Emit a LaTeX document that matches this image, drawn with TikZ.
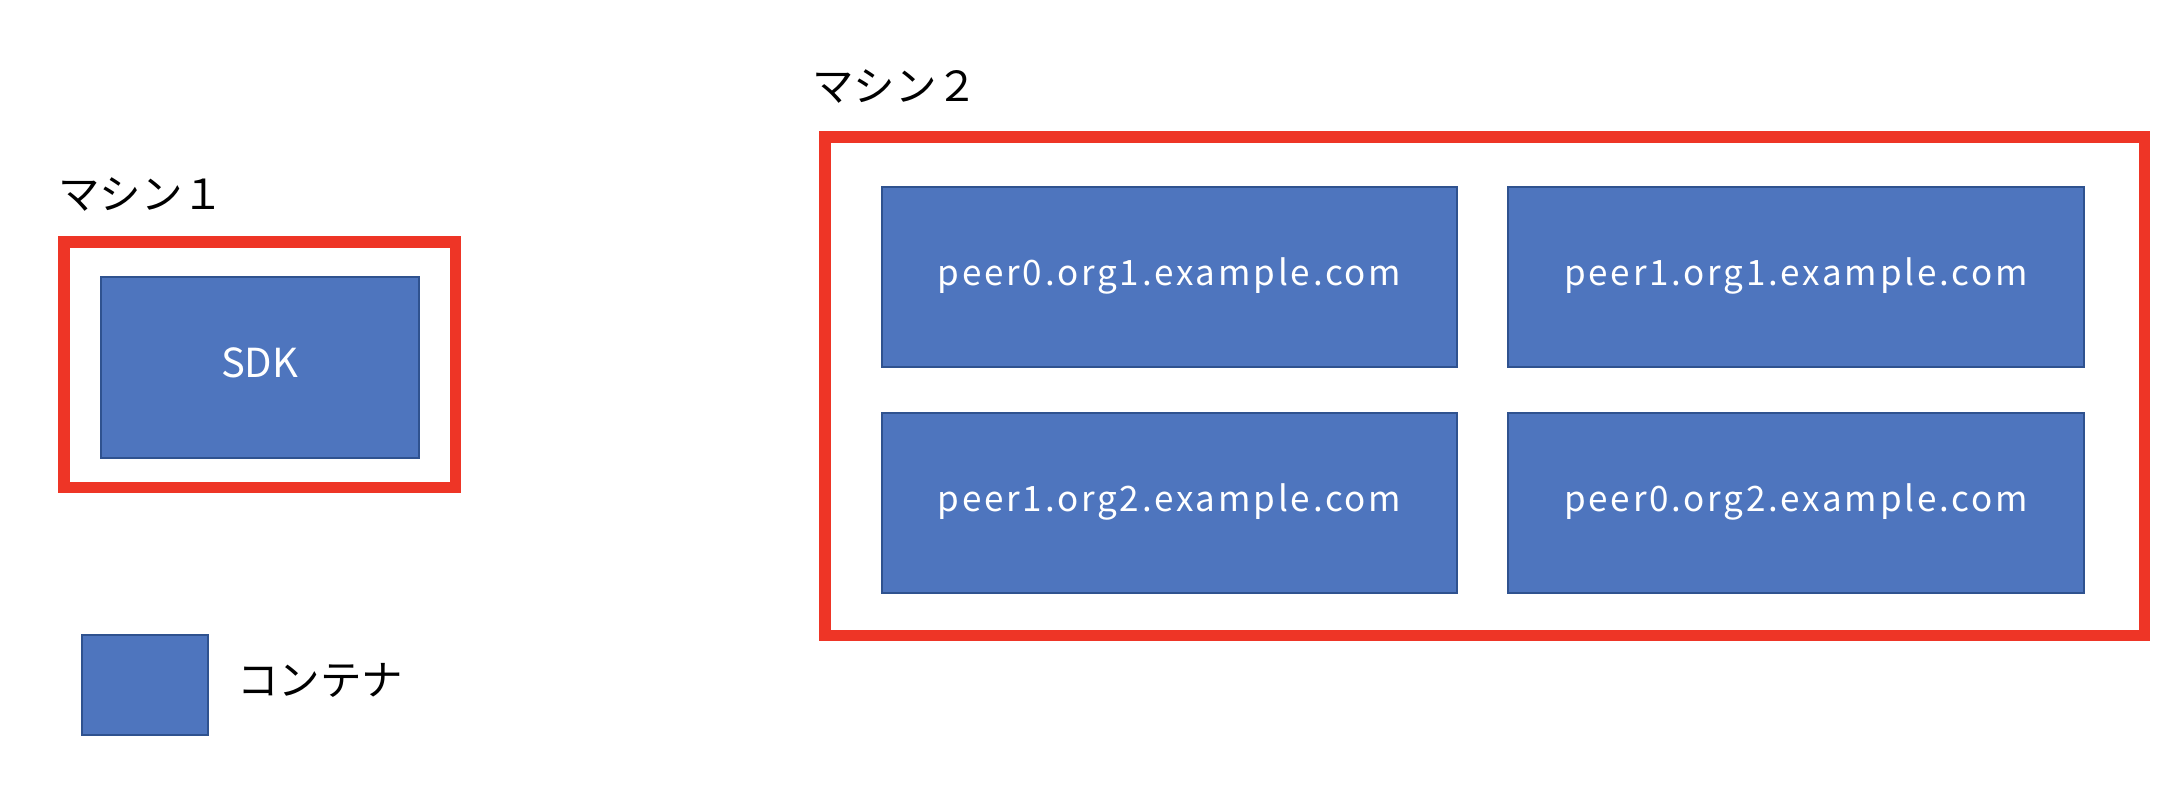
\documentclass[tikz,border=0pt]{standalone}
\usepackage{fontspec}
\setmainfont{Noto Sans CJK JP}
\newfontfamily\jpfont{Noto Sans CJK JP}
\newfontfamily\peerfont[LetterSpace=8]{Noto Sans CJK JP}
\definecolor{machred}{HTML}{EE3526}
\definecolor{boxblue}{HTML}{4E75BE}
\definecolor{boxedge}{HTML}{2F528F}
\tikzset{
  machine/.style={draw=machred, line width=11.5pt},
  container/.style={draw=boxedge, line width=2pt, fill=boxblue},
  boxtext/.style={text=white, font=\fontsize{35}{42}\selectfont\peerfont, inner sep=0pt},
  sdktext/.style={text=white, font=\fontsize{40}{48}\selectfont\jpfont, inner sep=0pt},
  jplabel/.style={font=\fontsize{41.5}{50}\selectfont\jpfont, inner sep=0pt, anchor=west}
}
\begin{document}
\begin{tikzpicture}[x=1pt,y=-1pt]
\useasboundingbox (0,0) rectangle (2176,800);
% machine 1
\draw[machine] (63.75,241.75) rectangle (455.25,487.25);
\node[jplabel] (m1) at (58,194) {マシン１};
\draw[container] (100.5,276.5) rectangle (419,457.5);
\node[sdktext] (sdk) at (259.75,363) {SDK};
% machine 2
\draw[machine] (824.75,136.75) rectangle (2144.25,635.25);
\node[jplabel] (m2) at (812,86.5) {マシン２};
\draw[container] (882,186.7) rectangle (1457,366.8);
\node[boxtext] (p00) at (1169.5,276) {peer0.org1.example.com};
\draw[container] (1508,186.7) rectangle (2084,366.8);
\node[boxtext] (p11) at (1796,276) {peer1.org1.example.com};
\draw[container] (882,412.7) rectangle (1457,593);
\node[boxtext] (p12) at (1169.5,502) {peer1.org2.example.com};
\draw[container] (1508,412.7) rectangle (2084,593);
\node[boxtext] (p02) at (1796,502) {peer0.org2.example.com};
% legend
\draw[container] (82,634.7) rectangle (207.5,735);
\node[jplabel] (leg) at (237,680) {コンテナ};
\end{tikzpicture}
\end{document}
